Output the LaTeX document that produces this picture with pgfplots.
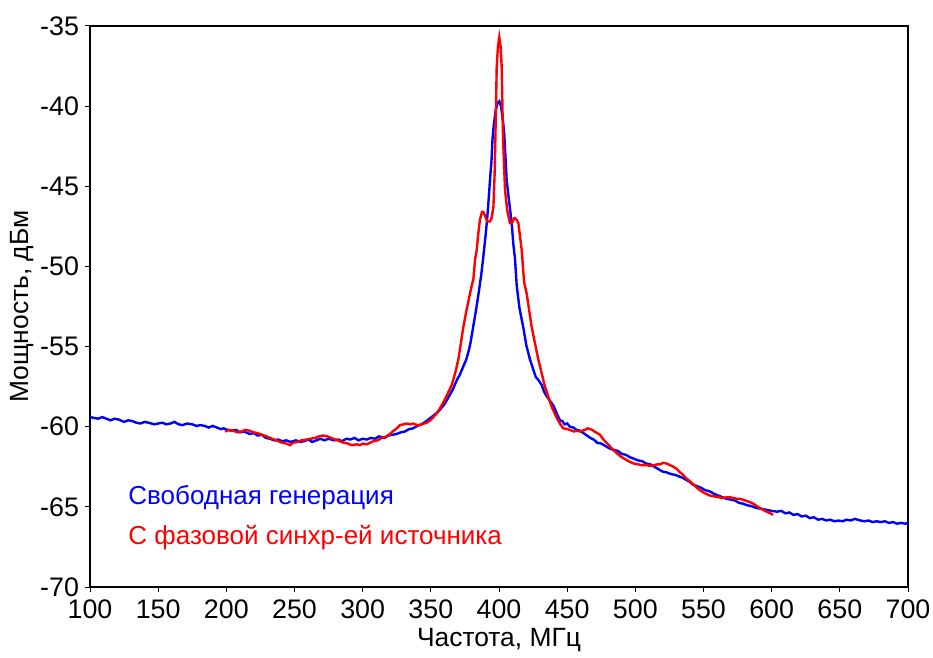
\documentclass[border=0pt]{standalone}
\usepackage{fontspec}
\setmainfont{Liberation Sans}
\usepackage{pgfplots}
\pgfplotsset{compat=1.18}
\begin{document}
\begin{tikzpicture}
\begin{axis}[name=ax,
  scale only axis, width=409pt, height=280.5pt,
  xmin=100, xmax=700, ymin=-70, ymax=-35,
  xtick={100,150,...,700}, ytick={-70,-65,...,-35},
  tick align=outside, tick pos=left, major tick length=2.5pt,
  axis line style={line width=1pt},
  every tick/.style={black, line width=0.5pt},
  /pgf/number format/assume math mode=true,
  /pgf/number format/1000 sep={},
  tick label style={font=\fontsize{13.4}{15}\selectfont},
  label style={font=\fontsize{13.2}{15}\selectfont},
  xticklabel style={yshift=-0.5pt},
  yticklabel style={xshift=0.5pt},
  xlabel={Частота, МГц}, ylabel={Мощность, дБм},
  xlabel style={at={(axis description cs:0.5,-0.0945)}, anchor=center},
  ylabel style={at={(axis description cs:-0.083,0.5)}, anchor=center},
  clip=true,
]
\addplot[blue, line width=1.2pt] coordinates {
(100,-59.4)(103,-59.45)(106,-59.5)(109,-59.4)(112,-59.5)(115,-59.6)(118,-59.5)(121,-59.55)(125,-59.7)(128,-59.6)(131,-59.65)(134,-59.75)(137,-59.8)(140,-59.7)(143,-59.75)(147,-59.85)(150,-59.8)
(153,-59.75)(156,-59.85)(159,-59.8)(162,-59.7)(165,-59.85)(168,-59.9)(171,-59.8)(175,-59.85)(178,-59.95)(181,-59.9)(184,-59.95)(187,-60.05)(190,-59.95)(193,-60.05)(196,-60.15)(198,-60.1)(201,-60.2)(204,-60.25)(207,-60.2)(210,-60.35)
(213,-60.3)(217,-60.45)(220,-60.4)(223,-60.55)(226,-60.5)(229,-60.7)(232,-60.75)(235,-60.85)(238,-60.8)(241,-60.9)(244,-60.85)(247,-60.95)(251,-60.85)(254,-60.95)(257,-60.9)(260,-60.8)(263,-60.95)(266,-60.85)(269,-60.75)(272,-60.85)
(275,-60.75)(279,-60.85)(282,-60.8)(285,-60.9)(288,-60.75)(291,-60.8)(294,-60.7)(297,-60.85)(300,-60.75)(303,-60.8)(306,-60.7)(309,-60.75)(312,-60.6)(316,-60.7)(319,-60.55)(322,-60.5)(325,-60.45)(328,-60.35)(331,-60.3)(334,-60.15)
(337,-60.1)(340,-59.95)(343,-59.85)(346,-59.7)(349,-59.5)(352,-59.3)(355,-59.1)(357,-58.9)(360,-58.6)(362,-58.3)(364,-58.0)(366,-57.7)(369,-57.1)(371,-56.8)(373,-56.4)(376,-55.8)(378,-55.2)(379,-54.8)
(381,-53.8)(383,-52.8)(385,-51.7)(387,-50.5)(388.5,-49.4)(390,-48.2)(391,-47.3)(392,-46.3)(393.4,-44.6)(394.5,-43.4)
(395.2,-42.1)(396,-41.3)(397.5,-40.3)(399,-39.8)(400.2,-39.7)(401.5,-40.0)(403,-41.0)(403.9,-41.8)(405.6,-44.6)(407.5,-46.0)
(409.3,-47.3)(410.5,-48.6)(411.7,-49.5)(413,-51.2)(415,-52.6)(417.8,-53.8)(420,-54.9)(422.7,-55.8)(425,-56.4)(427,-56.9)(429,-57.1)(431.3,-57.4)
(433,-57.8)(435,-58.1)(437.5,-58.4)(440,-58.7)(442.5,-59.2)(444.7,-59.6)(446.5,-59.65)(448,-59.85)(450,-59.8)(452,-60.0)(454.5,-60.05)(457,-60.2)(459.5,-60.25)(462,-60.4)(464.5,-60.55)(467,-60.7)(469.5,-60.8)(472,-61.0)(475,-61.05)(478,-61.2)
(481,-61.35)(484,-61.45)(487,-61.5)(490,-61.7)(493,-61.75)(496,-61.9)(499,-62.0)(502,-62.1)(505,-62.15)(508,-62.3)(511,-62.35)(514,-62.5)(517,-62.65)(520,-62.8)(523,-62.85)(526,-62.95)(529,-63.0)(532,-63.1)(535,-63.2)(537,-63.3)
(540,-63.45)(542,-63.6)(545,-63.7)(548,-63.8)(551,-63.95)(555,-64.05)(558,-64.2)(561,-64.3)(564,-64.4)(567,-64.5)(570,-64.55)(573,-64.6)(576,-64.75)(579,-64.8)(582,-64.9)(585,-64.95)(588,-65.05)(591,-65.1)(594,-65.15)(597,-65.2)
(600,-65.25)(604,-65.3)(607,-65.25)(610,-65.4)(613,-65.35)(616,-65.5)(619,-65.45)(622,-65.6)(625,-65.55)(628,-65.7)(631,-65.65)(634,-65.8)(637,-65.75)(640,-65.85)(643,-65.8)(646,-65.9)(649,-65.85)(652,-65.9)(655,-65.8)(658,-65.85)
(661,-65.75)(665,-65.85)(668,-65.9)(671,-65.85)(674,-65.95)(677,-65.9)(680,-65.95)(683,-65.9)(686,-66.0)(689,-65.95)(692,-66.05)(695,-66.0)(698,-66.05)(700,-66.0)
};
\addplot[red, line width=1.2pt] coordinates {
(199,-60.3)(202,-60.2)(205,-60.25)(208,-60.35)(211,-60.3)(214,-60.2)(217,-60.25)(220,-60.35)(223,-60.4)(226,-60.5)(229.6,-60.6)(232,-60.7)(235,-60.8)(238,-60.9)(241,-61.0)(244,-61.05)(246.7,-61.15)(249,-61.0)(252,-60.95)
(255,-60.85)(259,-60.8)(262,-60.75)(265,-60.7)(268,-60.6)(271,-60.55)(274,-60.6)(277,-60.7)(280,-60.8)(283,-60.9)(286,-61.0)(289,-61.05)(292,-61.15)(295.6,-61.1)(298,-61.15)(300,-61.05)(303,-61.1)(305.4,-61.0)(308,-60.9)(311,-60.85)
(314,-60.7)(317.6,-60.6)(320,-60.45)(322,-60.3)(325,-60.1)(327.4,-59.9)(330,-59.85)(332,-59.8)(335,-59.85)(337,-59.8)(340,-59.9)(342,-59.9)(345,-59.8)(347,-59.75)(349.5,-59.6)(351.8,-59.4)(355,-59.1)(357,-58.8)(359.1,-58.5)
(362,-58.0)(365.3,-57.4)(368,-56.6)(370.2,-55.8)(372,-54.8)(373.8,-53.8)(376,-52.8)(378.7,-51.7)(380,-51.2)(381.2,-50.8)
(382.4,-49.6)(383.6,-49.0)(385,-47.8)(386,-47.1)(387.5,-46.6)(388.5,-46.6)(390,-46.9)(391.5,-47.2)(393.4,-47.2)(394.5,-47.0)
(395.9,-46.3)(396.8,-44.2)(397.3,-42.1)(397.8,-40.0)(398.3,-37.6)(399.2,-36.3)(400.2,-35.7)(401.2,-36.3)(402,-37.6)(402.5,-40.0)
(403,-42.1)(404.4,-45.2)(406,-46.5)(408,-47.3)(409.5,-47.3)(411,-47.0)(411.7,-47.0)(413,-47.1)(414.2,-47.3)(415.5,-48.2)
(416.7,-49.0)(417.8,-50.3)(418.5,-51.0)(420.3,-51.7)(424,-53.8)(428.8,-55.8)(433.7,-57.5)(438.6,-58.75)(442.3,-59.45)(445,-59.85)(447.2,-60.1)
(450,-60.15)(452,-60.2)(455,-60.3)(457,-60.25)(459.4,-60.3)(461,-60.25)(463,-60.2)(465,-60.1)(466.8,-60.15)(468.5,-60.2)(470,-60.3)(472,-60.4)(474,-60.5)(476.5,-60.8)(480,-61.1)(483.8,-61.45)
(487,-61.7)(490,-61.9)(493,-62.05)(496.1,-62.2)(499,-62.3)(502,-62.35)(505,-62.4)(508.3,-62.4)(511,-62.45)(514,-62.4)(516,-62.35)(518,-62.35)(520.5,-62.25)(523,-62.3)(525.5,-62.4)(528,-62.5)(530.5,-62.65)(532.8,-62.85)(535,-63.0)(537,-63.2)
(540,-63.4)(542.5,-63.6)(545,-63.8)(548,-64.0)(551,-64.15)(554.8,-64.3)(558,-64.35)(561,-64.4)(564,-64.45)(567,-64.4)(569.5,-64.4)(572,-64.45)(574.5,-64.5)(576.8,-64.5)(579,-64.55)(582,-64.65)(584,-64.7)(586.5,-64.8)(589,-64.95)(591,-65.05)
(594,-65.2)(596.3,-65.3)(599,-65.4)(601,-65.5)
};
\node[anchor=west, inner sep=0pt, blue, font=\fontsize{13}{15}\selectfont] at (axis description cs:0.0465,0.159) {Свободная генерация};
\node[anchor=west, inner sep=0pt, red, font=\fontsize{13}{15}\selectfont] at (axis description cs:0.0465,0.089) {С фазовой синхр-ей источника};
\end{axis}
\pgfresetboundingbox
\path[use as bounding box] ([shift={(-45pt,-35pt)}]ax.south west) rectangle ([shift={(12.5pt,13pt)}]ax.north east);
\end{tikzpicture}
\end{document}
